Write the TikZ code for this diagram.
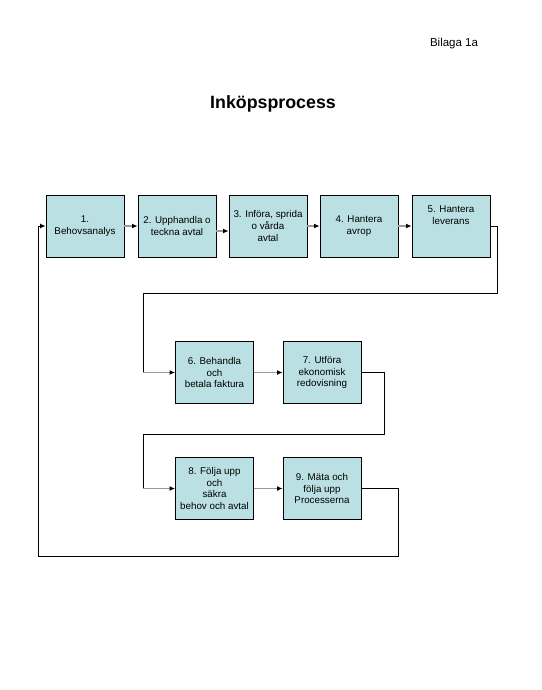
\documentclass[tikz,border=0pt]{standalone}
\usepackage{fontspec}
\setmainfont{Liberation Sans}
\usepackage{xcolor}
\usepackage{tikz}
\usetikzlibrary{positioning,arrows.meta}
\definecolor{rutfarg}{RGB}{187,224,227}

\begin{document}
\begin{tikzpicture}[x=1pt,y=-1pt,
    ruta/.style={rectangle, draw=black, line width=0.9pt, fill=rutfarg, minimum width=78pt, minimum height=62pt, align=center, font=\fontsize{9.8}{11.8}\selectfont, inner sep=1pt},
    pil/.style={draw=black!40, line width=1.4pt, -{Latex[color=black,length=5.5pt,width=5pt]}},
    linje/.style={draw=black, line width=0.9pt}]
        \useasboundingbox (0,0) rectangle (541,690);
        \node (bilaga) at (454,44) {\fontsize{11.5}{13}\selectfont Bilaga 1a};
        \node (titel) at (273,104) {\fontsize{17.8}{20}\selectfont\bfseries Inköpsprocess};

        % Rad 1
        \node[ruta] (A) at (85,226) {1.\\Behovsanalys};
        \node[ruta] (B) at (177,226) {2. Upphandla o\\teckna avtal};
        \node[ruta] (C) at (268,226) {3. Införa, sprida\\o vårda\\avtal};
        \node[ruta] (D) at (359,226) {4. Hantera\\avrop};
        \node[ruta, text depth=22pt] (E) at (451,226) {5. Hantera\\leverans};

        % Rad 2
        \node[ruta] (F) at (214.5,372.5) {6. Behandla\\och\\betala faktura};
        \node[ruta] (G) at (322,372.5) {7. Utföra\\ekonomisk\\redovisning};

        % Rad 3
        \node[ruta] (H) at (214.5,488.5) {8. Följa upp\\och\\säkra\\behov och avtal};
        \node[ruta] (I) at (322,488.5) {9. Mäta och\\följa upp\\Processerna};

        % Pilar
        \draw[pil] (A) -- (B);
        \draw[pil] ([yshift=-5pt]B.east) -- ([yshift=-5pt]C.west);
        \draw[pil] (C) -- (D);
        \draw[pil] (D) -- (E);
        \draw[pil] (F) -- (G);
        \draw[pil] (H) -- (I);

        % Linjer mellan raderna
        \coordinate (k1) at (143,372.5);
        \coordinate (k2) at (143,488.5);
        \coordinate (k3) at (38,226);
        \draw[linje] (E.east) -| (497,293) -| (k1);
        \draw[pil] (k1) -- (F.west);
        \draw[linje] (G.east) -| (384,434) -| (k2);
        \draw[pil] (k2) -- (H.west);
        \draw[linje] (I.east) -| (398,556) -| (k3);
        \draw[linje, -{Latex[length=5.5pt,width=5pt]}] (k3) -- (A.west);
    \end{tikzpicture}
\end{document}
